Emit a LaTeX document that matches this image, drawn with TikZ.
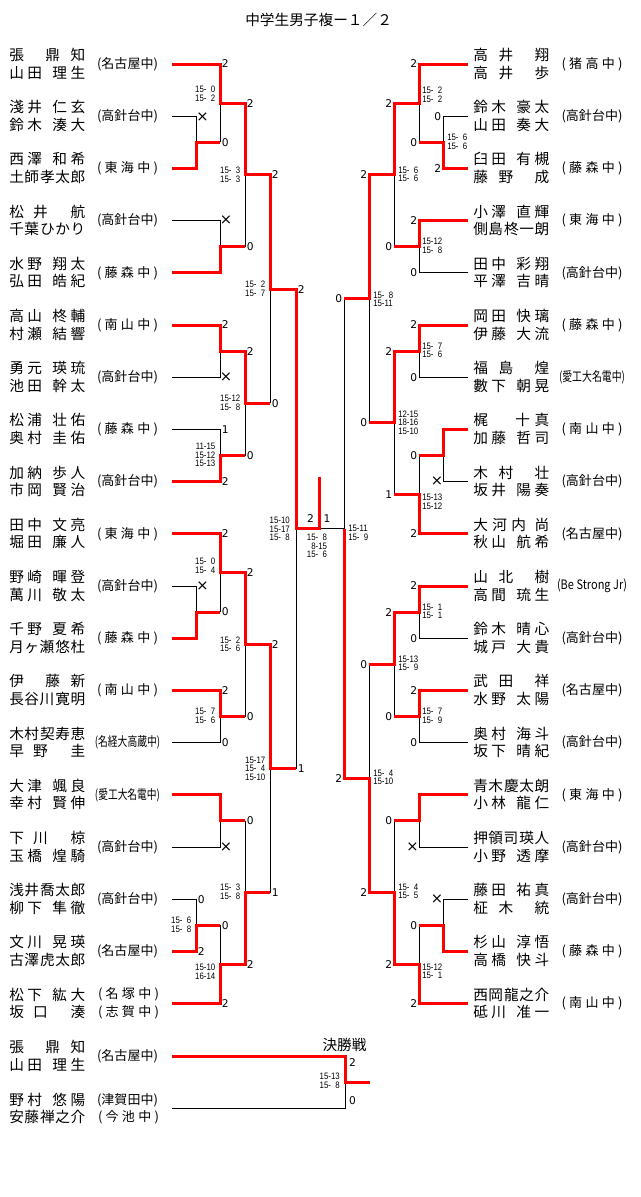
\documentclass[tikz,border=0pt]{standalone}
\usepackage{fontspec}
\usepackage{graphicx}
\setmainfont{Noto Sans CJK JP}
\newfontfamily\jpf{Noto Sans CJK JP}
\newfontfamily\numfont{DejaVu Sans}
\newfontfamily\scfont[FakeStretch=0.84]{Liberation Sans}
\newcounter{nd}
\def\gs{\hfil}
\def\gw{\hfil\hfil\hfil}
\def\zz{\hphantom{0}}
\def\spr#1{\sprA#1\relax}
\def\sprA#1{#1\sprB}
\def\sprB#1{\ifx\relax#1\else\hfil#1\expandafter\sprB\fi}
\newcommand\nmbox[1]{\makebox[57pt][s]{#1}}
\newcommand\schl[1]{\makebox[45.75pt][s]{\spr{#1}}}
\newcommand\schc[2]{\resizebox{#1}{\height}{#2}}
\tikzset{
 redln/.style={draw=red, line width=2.25pt, line join=miter},
 blkln/.style={draw=black, line width=0.75pt},
 nmtext/.style={font=\jpf\fontsize{11}{13}\selectfont, inner sep=0pt, anchor=west},
 sctext/.style={font=\jpf\fontsize{9.75}{12}\selectfont, inner sep=0pt},
 numtext/.style={font=\numfont\fontsize{8}{8}\selectfont, inner sep=0pt},
 xtext/.style={font=\numfont\fontsize{11}{11}\selectfont, inner sep=0pt},
 scoretext/.style={font=\scfont\fontsize{7}{6.4}\selectfont, inner sep=0pt},
}
\newcommand\entL[5]{%
 \node[nmtext, name=#1a] at (9,#2-9) {\nmbox{#3}};
 \node[nmtext, name=#1b] at (9,#2+8.5) {\nmbox{#4}};
 \node[sctext, name=#1s] at (127.5,#2) {#5};}
\newcommand\entR[5]{%
 \node[nmtext, name=#1a] at (473,#2-9) {\nmbox{#3}};
 \node[nmtext, name=#1b] at (473,#2+8.5) {\nmbox{#4}};
 \node[sctext, name=#1s] at (592,#2) {#5};}
\newcommand\ptL[3]{\stepcounter{nd}\node[numtext, anchor=west, name=p\arabic{nd}] at (#1+1.5,#2) {#3};}
\newcommand\ptR[3]{\stepcounter{nd}\node[numtext, anchor=east, name=p\arabic{nd}] at (#1-1.5,#2) {#3};}
\newcommand\xm[2]{\stepcounter{nd}\node[xtext, name=p\arabic{nd}] at (#1,#2) {×};}
\newcommand\gmL[3]{\stepcounter{nd}\node[scoretext, anchor=east, align=right, name=g\arabic{nd}] at (#1,#2) {#3};}
\newcommand\gmR[3]{\stepcounter{nd}\node[scoretext, anchor=west, align=left, name=g\arabic{nd}] at (#1,#2) {#3};}
\begin{document}
\begin{tikzpicture}[x=0.75pt,y=-0.75pt]
\fill[white] (0,0) rectangle (640,1197);
\path[use as bounding box] (0,0) rectangle (640,1197);
\node[font=\jpf\fontsize{11}{13}\selectfont, anchor=west, inner sep=0pt, name=title] at (245,19.5) {中学生男子複ー１／２};
% ---------- black lines ----------
\draw[blkln] (172,116.2)--(196,116.2)--(196,142.3);
\draw[blkln] (220,103.15)--(220,142.3);
\draw[blkln] (172,220.6)--(220,220.6)--(220,246.7);
\draw[blkln] (245,174.9)--(245,246.7);
\draw[blkln] (172,377.2)--(220,377.2)--(220,351.1);
\draw[blkln] (172,429.4)--(220,429.4)--(220,455.5);
\draw[blkln] (245,403.3)--(245,455.5);
\draw[blkln] (270,289.1)--(270,403.3);
\draw[blkln] (296,528.9)--(296,768.7);
\draw[blkln] (172,586)--(196,586)--(196,612.1);
\draw[blkln] (220,572.95)--(220,612.1);
\draw[blkln] (172,742.6)--(220,742.6)--(220,716.5);
\draw[blkln] (245,644.7)--(245,716.5);
\draw[blkln] (270,768.7)--(270,892.7);
\draw[blkln] (172,847)--(220,847)--(220,820.9);
\draw[blkln] (245,820.9)--(245,892.7);
\draw[blkln] (172,899.2)--(196,899.2)--(196,925.3);
\draw[blkln] (220,925.3)--(220,964.45);
\draw[blkln] (319,528.9)--(344,528.9)--(344,298.9);
\draw[blkln] (468,116.2)--(443,116.2)--(443,142.3);
\draw[blkln] (419,103.15)--(419,142.3);
\draw[blkln] (468,272.8)--(419,272.8)--(419,246.7);
\draw[blkln] (394,174.9)--(394,246.7);
\draw[blkln] (369,298.9)--(369,422.9);
\draw[blkln] (468,377.2)--(419,377.2)--(419,351.1);
\draw[blkln] (468,481.6)--(443,481.6)--(443,455.5);
\draw[blkln] (419,455.5)--(419,494.65);
\draw[blkln] (394,422.9)--(394,494.65);
\draw[blkln] (468,638.2)--(419,638.2)--(419,612.1);
\draw[blkln] (468,742.6)--(419,742.6)--(419,716.5);
\draw[blkln] (394,664.3)--(394,716.5);
\draw[blkln] (369,664.3)--(369,778.5);
\draw[blkln] (468,847)--(419,847)--(419,820.9);
\draw[blkln] (394,820.9)--(394,892.7);
\draw[blkln] (468,899.2)--(443,899.2)--(443,925.3);
\draw[blkln] (419,925.3)--(419,964.45);
\draw[blkln] (172,1108)--(345,1108)--(345,1082);
% ---------- red lines ----------
\draw[redln] (172,64)--(220,64)--(220,103.15)--(245,103.15)--(245,174.9)--(270,174.9)--(270,289.1)--(296,289.1)--(296,528.9)--(319,528.9)--(319,477);
\draw[redln] (172,168.4)--(196,168.4)--(196,142.3)--(220,142.3);
\draw[redln] (172,272.8)--(220,272.8)--(220,246.7)--(245,246.7);
\draw[redln] (172,325)--(220,325)--(220,351.1)--(245,351.1)--(245,403.3)--(270,403.3);
\draw[redln] (172,481.6)--(220,481.6)--(220,455.5)--(245,455.5);
\draw[redln] (172,533.8)--(220,533.8)--(220,572.95)--(245,572.95)--(245,644.7)--(270,644.7)--(270,768.7)--(296,768.7);
\draw[redln] (172,638.2)--(196,638.2)--(196,612.1)--(220,612.1);
\draw[redln] (172,690.4)--(220,690.4)--(220,716.5)--(245,716.5);
\draw[redln] (172,794.8)--(220,794.8)--(220,820.9)--(245,820.9);
\draw[redln] (172,951.4)--(196,951.4)--(196,925.3)--(220,925.3);
\draw[redln] (172,1003.6)--(220,1003.6)--(220,964.45)--(245,964.45)--(245,892.7)--(270,892.7);
\draw[redln] (468,64)--(419,64)--(419,103.15)--(394,103.15)--(394,174.9)--(369,174.9)--(369,298.9)--(344,298.9);
\draw[redln] (468,168.4)--(443,168.4)--(443,142.3)--(419,142.3);
\draw[redln] (468,220.6)--(419,220.6)--(419,246.7)--(394,246.7);
\draw[redln] (468,325)--(419,325)--(419,351.1)--(394,351.1)--(394,422.9)--(369,422.9);
\draw[redln] (468,429.4)--(443,429.4)--(443,455.5)--(419,455.5);
\draw[redln] (468,533.8)--(419,533.8)--(419,494.65)--(394,494.65);
\draw[redln] (468,586)--(419,586)--(419,612.1)--(394,612.1)--(394,664.3)--(369,664.3);
\draw[redln] (468,690.4)--(419,690.4)--(419,716.5)--(394,716.5);
\draw[redln] (468,794.8)--(419,794.8)--(419,820.9)--(394,820.9);
\draw[redln] (468,951.4)--(443,951.4)--(443,925.3)--(419,925.3);
\draw[redln] (468,1003.6)--(419,1003.6)--(419,964.45)--(394,964.45)--(394,892.7)--(369,892.7)--(369,778.5)--(344,778.5)--(344,528.9);
\draw[redln] (172,1056)--(345,1056)--(345,1082)--(370,1082);
% ---------- left entries ----------
\entL{L0}{64}{張\gs\gs 鼎\gs 知}{山\gs 田\gw 理\gs 生}{\schl{(名古屋中)}}
\entL{L1}{116.2}{淺\gs 井\gw 仁\gs 玄}{鈴\gs 木\gw 湊\gs 大}{\schl{(高針台中)}}
\entL{L2}{168.4}{西\gs 澤\gw 和\gs 希}{土\gs 師\gs\gs 孝\gs 太\gs 郎}{\schl{(東海中)}}
\entL{L3}{220.6}{松\gs\gs 井\gs\gs\gs\gs\gs 航}{千\gs 葉\gs\gs ひ\gs か\gs り}{\schl{(高針台中)}}
\entL{L4}{272.8}{水\gs 野\gw 翔\gs 太}{弘\gs 田\gw 皓\gs 紀}{\schl{(藤森中)}}
\entL{L5}{325}{高\gs 山\gw 柊\gs 輔}{村\gs 瀬\gw 結\gs 響}{\schl{(南山中)}}
\entL{L6}{377.2}{勇\gs 元\gw 瑛\gs 琉}{池\gs 田\gw 幹\gs 太}{\schl{(高針台中)}}
\entL{L7}{429.4}{松\gs 浦\gw 壮\gs 佑}{奥\gs 村\gw 圭\gs 佑}{\schl{(藤森中)}}
\entL{L8}{481.6}{加\gs 納\gw 歩\gs 人}{市\gs 岡\gw 賢\gs 治}{\schl{(高針台中)}}
\entL{L9}{533.8}{田\gs 中\gw 文\gs 亮}{堀\gs 田\gw 廉\gs 人}{\schl{(東海中)}}
\entL{L10}{586}{野\gs 崎\gw 暉\gs 登}{萬\gs 川\gw 敬\gs 太}{\schl{(高針台中)}}
\entL{L11}{638.2}{千\gs 野\gw 夏\gs 希}{月\gs ヶ\gs 瀬\gs\gs 悠\gs 杜}{\schl{(藤森中)}}
\entL{L12}{690.4}{伊\gs\gs 藤\gs 新}{長\gs 谷\gs 川\gs\gs 寛\gs 明}{\schl{(南山中)}}
\entL{L13}{742.6}{木\gs 村\gs\gs 契\gs 寿\gs 恵}{早\gs\gs 野\gs\gs\gs\gs\gs 圭}{\schc{49pt}{(名経大高蔵中)}}
\entL{L14}{794.8}{大\gs 津\gw 颯\gs 良}{幸\gs 村\gw 賢\gs 伸}{\schc{48.75pt}{(愛工大名電中)}}
\entL{L15}{847}{下\gs\gs 川\gs\gs\gs\gs\gs 椋}{玉\gs 橋\gw 煌\gs 騎}{\schl{(高針台中)}}
\entL{L16}{899.2}{浅\gs 井\gs\gs 喬\gs 太\gs 郎}{柳\gs 下\gw 隼\gs 徹}{\schl{(高針台中)}}
\entL{L17}{951.4}{文\gs 川\gw 晃\gs 瑛}{古\gs 澤\gs\gs 虎\gs 太\gs 郎}{\schl{(名古屋中)}}
\node[nmtext, name=L18a] at (9,994.6) {\nmbox{松\gs 下\gw 紘\gs 大}};
\node[nmtext, name=L18b] at (9,1012.1) {\nmbox{坂\gs\gs 口\gs\gs\gs\gs\gs 湊}};
\node[sctext, name=L18s] at (128.5,994.6) {\schl{(名塚中)}};
\node[sctext, name=L18t] at (128.5,1012.6) {\schl{(志賀中)}};
% ---------- right entries ----------
\entR{R0}{64}{高\gs 井\gs\gs 翔}{高\gs 井\gs\gs 歩}{\schl{(猪高中)}}
\entR{R1}{116.2}{鈴\gs 木\gw 豪\gs 太}{山\gs 田\gw 奏\gs 大}{\schl{(高針台中)}}
\entR{R2}{168.4}{臼\gs 田\gw 有\gs 槻}{藤\gs 野\gs\gs 成}{\schl{(藤森中)}}
\entR{R3}{220.6}{小\gs 澤\gw 直\gs 輝}{側\gs 島\gs\gs 柊\gs 一\gs 朗}{\schl{(東海中)}}
\entR{R4}{272.8}{田\gs 中\gw 彩\gs 翔}{平\gs 澤\gw 吉\gs 晴}{\schl{(高針台中)}}
\entR{R5}{325}{岡\gs 田\gw 快\gs 璃}{伊\gs 藤\gw 大\gs 流}{\schl{(藤森中)}}
\entR{R6}{377.2}{福\gs 島\gs\gs 煌}{數\gs 下\gw 朝\gs 晃}{\schc{49.5pt}{(愛工大名電中)}}
\entR{R7}{429.4}{梶\gs\gs\gs\gs\gs\gs 十\gs 真}{加\gs 藤\gw 哲\gs 司}{\schl{(南山中)}}
\entR{R8}{481.6}{木\gs 村\gs\gs 壮}{坂\gs 井\gw 陽\gs 奏}{\schl{(高針台中)}}
\entR{R9}{533.8}{大\gs 河\gs 内\gs\gs 尚}{秋\gs 山\gw 航\gs 希}{\schl{(名古屋中)}}
\entR{R10}{586}{山\gs 北\gs\gs 樹}{高\gs 間\gw 琉\gs 生}{\schc{52.5pt}{(Be Strong Jr)}}
\entR{R11}{638.2}{鈴\gs 木\gw 晴\gs 心}{城\gs 戸\gw 大\gs 貴}{\schl{(高針台中)}}
\entR{R12}{690.4}{武\gs 田\gs\gs 祥}{水\gs 野\gw 太\gs 陽}{\schl{(名古屋中)}}
\entR{R13}{742.6}{奥\gs 村\gw 海\gs 斗}{坂\gs 下\gw 晴\gs 紀}{\schl{(高針台中)}}
\entR{R14}{794.8}{青\gs 木\gs\gs 慶\gs 太\gs 朗}{小\gs 林\gw 龍\gs 仁}{\schl{(東海中)}}
\entR{R15}{847}{押\gs 領\gs 司\gs\gs 瑛\gs 人}{小\gs 野\gw 透\gs 摩}{\schl{(高針台中)}}
\entR{R16}{899.2}{藤\gs 田\gw 祐\gs 真}{柾\gs 木\gs\gs 統}{\schl{(高針台中)}}
\entR{R17}{951.4}{杉\gs 山\gw 淳\gs 悟}{高\gs 橋\gw 快\gs 斗}{\schl{(藤森中)}}
\entR{R18}{1003.6}{西\gs 岡\gs\gs 龍\gs 之\gs 介}{砥\gs 川\gw 准\gs 一}{\schl{(南山中)}}
% ---------- final ----------
\node[nmtext, anchor=center, name=kessho] at (344.5,1045) {決勝戦};
\entL{F1}{1056}{張\gs\gs 鼎\gs 知}{山\gs 田\gw 理\gs 生}{\schl{(名古屋中)}}
\node[nmtext, name=F2a] at (9,1099.5) {\nmbox{野\gs 村\gw 悠\gs 陽}};
\node[nmtext, name=F2b] at (9,1117) {\nmbox{安\gs 藤\gs\gs 禅\gs 之\gs 介}};
\node[sctext, name=F2s] at (127.5,1100) {\schl{(津賀田中)}};
\node[sctext, name=F2t] at (128.5,1117) {\schl{(今池中)}};
\node[numtext, name=f2] at (352.5,1062.5) {2};
\node[numtext, name=f0] at (352.5,1101) {0};
\gmL{340}{1081}{15-13\\15-\zz8}
% ---------- left points ----------
\ptL{220}{64}{2}\ptL{220}{142.3}{0}\ptL{245}{103.15}{2}\ptL{245}{246.7}{0}
\ptL{270}{174.9}{2}\ptL{270}{403.3}{0}\ptL{296}{289.1}{2}
\ptL{220}{325}{2}\ptL{245}{351.1}{2}\ptL{220}{429.4}{1}\ptL{220}{481.6}{2}\ptL{245}{455.5}{0}
\ptL{220}{533.8}{2}\ptL{245}{572.95}{2}\ptL{220}{612.1}{0}\ptL{270}{644.7}{2}
\ptL{220}{690.4}{2}\ptL{245}{716.5}{0}\ptL{220}{742.6}{0}\ptL{296}{768.7}{1}
\ptL{245}{820.9}{0}\ptL{270}{892.7}{1}\ptL{196}{899.2}{0}\ptL{220}{925.3}{0}
\ptL{196}{951.4}{2}\ptL{245}{964.45}{2}\ptL{220}{1003.6}{2}
\xm{202.5}{117}\xm{226}{220.6}\xm{226}{377.2}\xm{202.5}{586.5}\xm{226}{847}
% ---------- right points ----------
\ptR{419}{64}{2}\ptR{394}{103.15}{2}\ptR{443}{116.2}{0}\ptR{443}{168.4}{2}\ptR{419}{142.3}{0}
\ptR{369}{174.9}{2}\ptR{419}{220.6}{2}\ptR{394}{246.7}{0}\ptR{419}{272.8}{0}\ptR{344}{298.9}{0}
\ptR{419}{325}{2}\ptR{394}{351.1}{2}\ptR{419}{377.2}{0}\ptR{369}{422.9}{0}\ptR{419}{455.5}{0}
\ptR{394}{494.65}{1}\ptR{419}{533.8}{2}
\ptR{419}{586}{2}\ptR{394}{612.1}{2}\ptR{419}{638.2}{0}\ptR{369}{664.3}{0}\ptR{419}{690.4}{2}
\ptR{394}{716.5}{0}\ptR{419}{742.6}{0}\ptR{344}{778.5}{2}
\ptR{394}{820.9}{0}\ptR{369}{892.7}{2}\ptR{419}{925.3}{0}\ptR{394}{964.45}{2}\ptR{419}{1003.6}{2}
\xm{437}{481.6}\xm{412.5}{847}\xm{437}{899.2}
% centre
\node[numtext, name=c2] at (310.5,519) {2};
\node[numtext, name=c1] at (327,519) {1};
\stepcounter{nd}\node[scoretext, align=center, name=g\arabic{nd}] at (317,546) {15-\zz8\\\zz8-15\\15-\zz6};
% ---------- left game scores ----------
\gmL{215.5}{94}{15-\zz0\\15-\zz2}
\gmL{240.5}{175}{15-\zz3\\15-\zz3}
\gmL{265.5}{289}{15-\zz2\\15-\zz7}
\gmL{240.5}{403}{15-12\\15-\zz8}
\gmL{215.5}{455}{11-15\\15-12\\15-13}
\gmL{290}{529}{15-10\\15-17\\15-\zz8}
\gmL{215.5}{566}{15-\zz0\\15-\zz4}
\gmL{240.5}{644.5}{15-\zz2\\15-\zz6}
\gmL{215.5}{716}{15-\zz7\\15-\zz6}
\gmL{265.5}{768.5}{15-17\\15-\zz4\\15-10}
\gmL{240.5}{892}{15-\zz3\\15-\zz8}
\gmL{191.5}{925}{15-\zz6\\15-\zz8}
\gmL{215.5}{972}{15-10\\16-14}
% ---------- right game scores ----------
\gmR{422}{95}{15-\zz2\\15-\zz2}
\gmR{447}{142}{15-\zz6\\15-\zz6}
\gmR{398}{174.5}{15-\zz6\\15-\zz6}
\gmR{422}{246}{15-12\\15-\zz8}
\gmR{373}{299.5}{15-\zz8\\15-11}
\gmR{422}{350.5}{15-\zz7\\15-\zz6}
\gmR{398}{422.5}{12-15\\18-16\\15-10}
\gmR{422}{502}{15-13\\15-12}
\gmR{348}{533}{15-11\\15-\zz9}
\gmR{422}{611.5}{15-\zz1\\15-\zz1}
\gmR{398}{663.5}{15-13\\15-\zz9}
\gmR{422}{716}{15-\zz7\\15-\zz9}
\gmR{373}{777.5}{15-\zz4\\15-10}
\gmR{398}{891.5}{15-\zz4\\15-\zz5}
\gmR{422}{971.5}{15-12\\15-\zz1}
\end{tikzpicture}
\end{document}
